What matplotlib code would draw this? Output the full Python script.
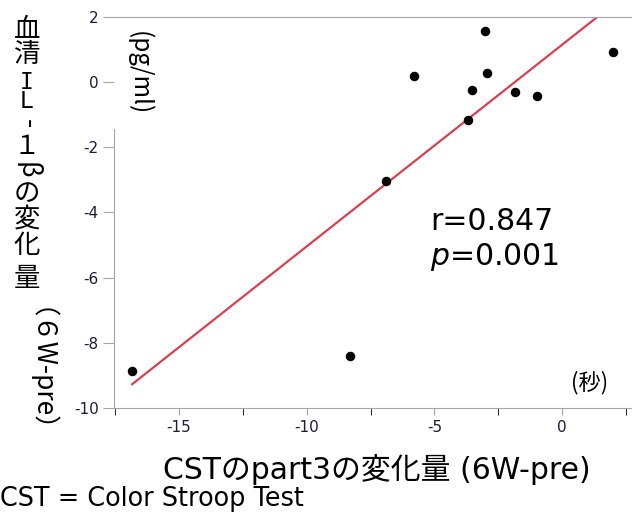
import numpy as np
import matplotlib
matplotlib.use("Agg")
import matplotlib.pyplot as plt

plt.rcParams['font.family'] = ['Noto Sans CJK JP', 'DejaVu Sans']
plt.rcParams['axes.unicode_minus'] = False

# data
cst_change = [-3.02, 2.0, -5.80, -2.94, -3.53, -1.84, -0.98, -3.68, -6.89, -16.84, -8.30]
il1b_change = [1.58, 0.92, 0.19, 0.27, -0.24, -0.29, -0.42, -1.16, -3.03, -8.86, -8.40]
x_ticks = [-15, -10, -5, 0]
y_ticks = [2, 0, -2, -4, -6, -8, -10]

x = np.array(cst_change)
y = np.array(il1b_change)
slope, icpt = np.polyfit(x, y, 1)

W, H = 632, 518
fig = plt.figure(figsize=(W / 100, H / 100), dpi=100)
ax = fig.add_axes([114 / W, 1 - 408 / H, 1 - 114 / W, (408 - 17) / H])

xs = np.array([x.min(), x.max()])
ax.plot(xs, slope * xs + icpt, color='#d9404f', lw=1.6, zorder=2)
ax.scatter(x, y, s=34, color='black', zorder=3)

ax.set_xlim(-17.55, 2.74)
ax.set_ylim(-10, 2)
ax.set_xticks(x_ticks)
ax.set_xticks(np.arange(-17.5, 2.6, 2.5), minor=True)
ax.set_yticks(y_ticks)

gray = '#a6a6a6'
for s in ['left', 'bottom', 'top']:
    ax.spines[s].set_color(gray)
ax.spines['right'].set_visible(False)
ax.spines['left'].set_bounds(-10, -1.45)
ax.tick_params(axis='both', colors=gray, labelcolor='#1c1c3c', labelsize=11,
               labelfontfamily='DejaVu Sans')
ax.tick_params(axis='x', which='both', length=5, pad=4)
ax.tick_params(axis='y', length=8, pad=3)
ax.tick_params(axis='x', which='minor', length=5)

def ax_pos(px, py):
    return (px - 114) / (W - 114), 1 - (py - 17) / 391

latin_first = ['DejaVu Sans', 'Noto Sans CJK JP']
ax.text(*ax_pos(430, 222), 'r=0.847', transform=ax.transAxes, fontsize=21.5,
        va='center', ha='left', family=latin_first)
ax.text(*ax_pos(430, 257), '$\\it{p}$=0.001', transform=ax.transAxes, fontsize=21.5,
        va='center', ha='left', family=latin_first)
ax.text(*ax_pos(590, 383), '(秒)', transform=ax.transAxes, fontsize=16,
        va='center', ha='center')
ax.text(*ax_pos(139, 73), '(pg/ml)', transform=ax.transAxes, fontsize=17.5,
        va='center', ha='center', rotation=-90)

fig.text(377 / W, 1 - 469 / H, 'CSTのpart3の変化量 (6W-pre)', fontsize=21.5,
         ha='center', va='center', family=latin_first)
fig.text(0.0, 1 - 499 / H, 'CST = Color Stroop Test', fontsize=18.4,
         ha='left', va='center', family=latin_first)

# vertical y label: (text, centre y in px, rotated, size)
ylabel_parts = [('血', 30, False, 19), ('清', 55, False, 19), ('-', 124, True, 19),
                ('１', 147, False, 19), ('β', 170, True, 19), ('の', 194, False, 19),
                ('変', 219, False, 19), ('化', 246, False, 19), ('量', 278, False, 19),
                ('（６W-pre）', 383, True, 19)]
for txt, py, rot, fs in ylabel_parts:
    fig.text(27 / W, 1 - py / H, txt, fontsize=fs, ha='center', va='center',
             rotation=-90 if rot else 0)
fig.text(27 / W, 1 - 92 / H, 'I\nL', fontsize=16.5, ha='center', va='center',
         family='DejaVu Sans Mono', linespacing=0.78)

fig.savefig('out.png', dpi=100)
